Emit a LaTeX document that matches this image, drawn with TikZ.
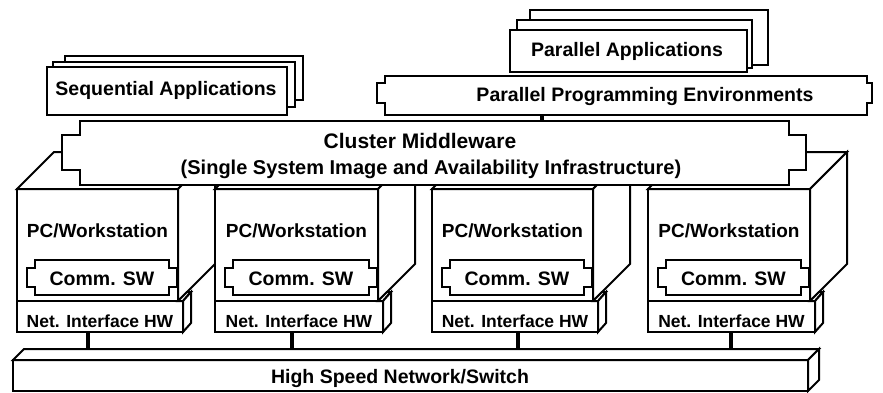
\documentclass[tikz,border=0pt]{standalone}
\usepackage{fontspec}
\setmainfont{Liberation Sans}
\usetikzlibrary{calc,fit}
\newcommand\tabdeco[5]{%
 \fill[white] ($(#1.north west)+(-#2,#4)$) rectangle ($(#1.north west)+(1.3,#5)$);
 \draw[ln, line cap=rect] ($(#1.north west)+(0,#4)$) -- ++(-#2,0) -- ++(0,{#5-#4}) -- ++(#2,0);
 \fill[white] ($(#1.north east)+(#3,#4)$) rectangle ($(#1.north east)+(-1.3,#5)$);
 \draw[ln, line cap=rect] ($(#1.north east)+(0,#4)$) -- ++(#3,0) -- ++(0,{#5-#4}) -- ++(-#3,0);
}
\newcommand\pcunit[4]{%
 \node[box, fit={(#2,189)(#3,301)}] (pc#1) {};
 \draw[face] (pc#1.north west) -- ++(37,-37) -- ($(pc#1.north east)+(37,-37)$) -- (pc#1.north east) -- cycle;
 \draw[face] (pc#1.north east) -- ++(37,-37) -- ++(0,112) -- (pc#1.south east) -- cycle;
 \node[fPC, anchor=base] (pct#1) at ($(pc#1.north)+(0,48)$) {PC/Workstation};
 \node[box, fit={({#2+18},260)({#3-9},295)}] (sw#1) {};
 \tabdeco{sw#1}{8}{8}{8}{27}
 \node[fSW, anchor=base] (swt#1) at ($(sw#1.north)+(0,25)$) {Comm. SW};
 \node[box, fit={(#2,301)({#3+5},332)}] (net#1) {};
 \draw[face] (pc#1.south east) -- (net#1.north east) -- ++(8,-9) -- ($(pc#1.south east)+(9,-9)$) -- cycle;
 \draw[face] (net#1.north east) -- ++(8,-9) -- ++(0,31) -- (net#1.south east) -- cycle;
 \node[fNet, anchor=base] (nett#1) at ($(net#1.north)+(0,26)$) {Net. Interface HW};
 \coordinate (k#1) at ($(net#1.south)+(#4,0)$);
 \draw[conn] (k#1) -- (k#1 |- bartop);
}
\begin{document}
\begin{tikzpicture}[x=1pt,y=-1pt,
  ln/.style={line width=2pt},
  face/.style={ln, draw, fill=white, line join=miter},
  box/.style={face, inner sep=0pt, outer sep=0pt},
  conn/.style={line width=4pt},
  fA/.style={inner sep=0pt, font=\fontsize{19.5}{22}\selectfont\bfseries},
  fCM/.style={inner sep=0pt, font=\fontsize{21}{24}\selectfont\bfseries},
  fSI/.style={inner sep=0pt, font=\fontsize{20}{23}\selectfont\bfseries},
  fPC/.style={inner sep=0pt, font=\fontsize{19}{22}\selectfont\bfseries},
  fSW/.style={inner sep=0pt, font=\fontsize{19.5}{22}\selectfont\bfseries},
  fNet/.style={inner sep=0pt, font=\fontsize{17.5}{20}\selectfont\bfseries},
  fHS/.style={inner sep=0pt, font=\fontsize{19.5}{22}\selectfont\bfseries}]
\useasboundingbox (0,0) rectangle (883,393);

% Sequential applications stack
\node[box, fit={(65,56)(303,100)}] (seq3) {};
\node[box, fit={(53,62)(295,107)}] (seq2) {};
\node[box, fit={(47,67)(287,115)}] (seq1) {};
\node[fA, anchor=base] (seqt) at (166,96) {Sequential Applications};

% Parallel applications stack
\node[box, fit={(530,10)(768,65)}] (par3) {};
\node[box, fit={(517,20)(752,68)}] (par2) {};
\node[box, fit={(510,30)(747,72)}] (par1) {};
\node[fA, anchor=base] (part) at (627,57) {Parallel Applications};

% Parallel programming environments
\node[box, fit={(385,76)(867,115)}] (ppe) {};
\tabdeco{ppe}{8}{5}{7}{27}
\node[fA, anchor=base] (ppet) at (645,102) {Parallel Programming Environments};

% High speed network / switch
\node[box, fit={(13,360)(808,391)}] (bar) {};
\draw[face] (bar.north west) -- ++(11,-11) -- ($(bar.north east)+(11,-11)$) -- (bar.north east) -- cycle;
\draw[face] (bar.north east) -- ++(11,-11) -- ++(0,31) -- (bar.south east) -- cycle;
\coordinate (bartop) at ($(bar.north west)+(11,-11)$);
\node[fHS, anchor=base] (bart) at (400,383.5) {High Speed Network/Switch};

% PC / workstation units
\pcunit{1}{17}{178}{-12}
\pcunit{2}{215}{378}{-7}
\pcunit{3}{432}{593}{3}
\pcunit{4}{648}{810}{-1}

% Cluster middleware
\node[box, fit={(80,121)(789,185)}] (mw) {};
\tabdeco{mw}{18}{17}{14}{49}
\node[fCM, anchor=base] (mwt1) at (420,148) {Cluster Middleware};
\node[fSI, anchor=base] (mwt2) at (431,174) {(Single System Image and Availability Infrastructure)};

% PPE to middleware
\coordinate (c0) at ($(ppe.south west)+(157,0)$);
\draw[conn] (c0) -- (c0 |- mw.north);
\end{tikzpicture}
\end{document}
